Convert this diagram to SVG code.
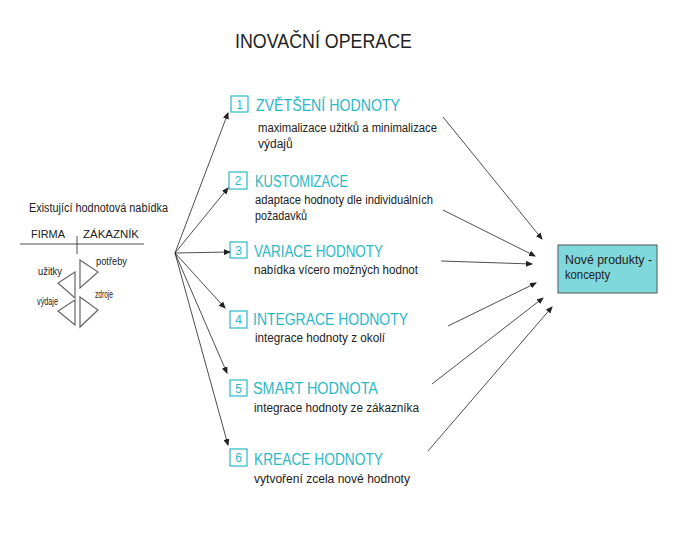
<svg xmlns="http://www.w3.org/2000/svg" width="690" height="550" viewBox="0 0 690 550">
<style>
text{font-family:"Liberation Sans",Arial,sans-serif;fill:#222}
.t{font-size:20px}
.h{font-size:16px;fill:#2bb8c6}
.n{font-size:12px;fill:#2bb8c6;text-anchor:middle}
.s{font-size:12px}
.l{font-size:11px}
.k{font-size:10px}
.nb{fill:none;stroke:#2bb8c6;stroke-width:1.2}
.c{stroke:#222;stroke-width:0.8;fill:none}
.tri{fill:none;stroke:#666;stroke-width:1.2}
</style>
<defs>
<marker id="ah" markerWidth="7" markerHeight="6" refX="6" refY="3" orient="auto" markerUnits="userSpaceOnUse">
<path d="M0,0 L7,3 L0,6 Z" fill="#222"/>
</marker>
</defs>
<rect width="690" height="550" fill="#fff"/>
<text class="t" x="235" y="48" textLength="177" lengthAdjust="spacingAndGlyphs">INOVAČNÍ OPERACE</text>

<g id="existing">
<text class="s" x="29" y="212" textLength="139" lengthAdjust="spacingAndGlyphs">Existující hodnotová nabídka</text>
<text class="l" x="31" y="238" textLength="34" lengthAdjust="spacingAndGlyphs">FIRMA</text>
<text class="l" x="83" y="238" textLength="56" lengthAdjust="spacingAndGlyphs">ZÁKAZNÍK</text>
<line class="c" x1="20" y1="244" x2="144" y2="244"/>
<line class="c" x1="77" y1="236" x2="77" y2="254"/>
<path class="tri" d="M75,272 L58,283 L75,298 Z"/>
<path class="tri" d="M80,260 L98,272 L80,288 Z"/>
<path class="tri" d="M75,300 L58,311 L75,325 Z"/>
<path class="tri" d="M80,297 L98,310 L80,327 Z"/>
<text class="k" x="38" y="275" textLength="24" lengthAdjust="spacingAndGlyphs">užitky</text>
<text class="k" x="96" y="265" textLength="31" lengthAdjust="spacingAndGlyphs">potřeby</text>
<text class="k" x="37" y="305" textLength="21" lengthAdjust="spacingAndGlyphs">výdaje</text>
<text class="k" x="95" y="298" textLength="18" lengthAdjust="spacingAndGlyphs">zdroje</text>
</g>

<g id="op1">
<rect class="nb" x="231" y="96" width="17" height="16"/>
<text class="n" x="239.5" y="109">1</text>
<text class="h" x="256" y="111" textLength="144" lengthAdjust="spacingAndGlyphs">ZVĚTŠENÍ HODNOTY</text>
<text class="s" x="258" y="132" textLength="179" lengthAdjust="spacingAndGlyphs">maximalizace užitků a minimalizace</text>
<text class="s" x="258" y="148">výdajů</text>
</g>
<g id="op2">
<rect class="nb" x="229" y="172" width="18" height="17"/>
<text class="n" x="238" y="185">2</text>
<text class="h" x="255" y="187" textLength="93" lengthAdjust="spacingAndGlyphs">KUSTOMIZACE</text>
<text class="s" x="255" y="204" textLength="178" lengthAdjust="spacingAndGlyphs">adaptace hodnoty dle individuálních</text>
<text class="s" x="255" y="220" textLength="52" lengthAdjust="spacingAndGlyphs">požadavků</text>
</g>
<g id="op3">
<rect class="nb" x="230" y="242" width="17" height="16"/>
<text class="n" x="238.5" y="255">3</text>
<text class="h" x="254" y="257" textLength="129" lengthAdjust="spacingAndGlyphs">VARIACE HODNOTY</text>
<text class="s" x="254" y="274" textLength="164" lengthAdjust="spacingAndGlyphs">nabídka vícero možných hodnot</text>
</g>
<g id="op4">
<rect class="nb" x="230" y="311" width="17" height="17"/>
<text class="n" x="238.5" y="324">4</text>
<text class="h" x="253" y="325" textLength="155" lengthAdjust="spacingAndGlyphs">INTEGRACE HODNOTY</text>
<text class="s" x="255" y="342" textLength="130" lengthAdjust="spacingAndGlyphs">integrace hodnoty z okolí</text>
</g>
<g id="op5">
<rect class="nb" x="230" y="380" width="17" height="16"/>
<text class="n" x="238.5" y="393">5</text>
<text class="h" x="253" y="394" textLength="125" lengthAdjust="spacingAndGlyphs">SMART HODNOTA</text>
<text class="s" x="254" y="412" textLength="165" lengthAdjust="spacingAndGlyphs">integrace hodnoty ze zákazníka</text>
</g>
<g id="op6">
<rect class="nb" x="230" y="449" width="17" height="17"/>
<text class="n" x="238.5" y="462">6</text>
<text class="h" x="254" y="465" textLength="129" lengthAdjust="spacingAndGlyphs">KREACE HODNOTY</text>
<text class="s" x="254" y="483" textLength="156" lengthAdjust="spacingAndGlyphs">vytvoření zcela nové hodnoty</text>
</g>

<g id="result">
<rect x="558" y="245" width="99" height="48" fill="#7fd8dc" stroke="#555" stroke-width="1"/>
<text class="s" x="565" y="264" textLength="87" lengthAdjust="spacingAndGlyphs">Nové produkty -</text>
<text class="s" x="565" y="279" textLength="45" lengthAdjust="spacingAndGlyphs">koncepty</text>
</g>

<g id="connectors">
<line class="c" x1="175" y1="253" x2="228" y2="113" marker-end="url(#ah)"/>
<line class="c" x1="175" y1="253" x2="228" y2="188" marker-end="url(#ah)"/>
<line class="c" x1="175" y1="253" x2="230" y2="252" marker-end="url(#ah)"/>
<line class="c" x1="175" y1="253" x2="225" y2="308" marker-end="url(#ah)"/>
<line class="c" x1="175" y1="253" x2="227" y2="373" marker-end="url(#ah)"/>
<line class="c" x1="175" y1="253" x2="228" y2="445" marker-end="url(#ah)"/>
<line class="c" x1="443" y1="117" x2="542" y2="239" marker-end="url(#ah)"/>
<line class="c" x1="443" y1="210" x2="535" y2="256" marker-end="url(#ah)"/>
<line class="c" x1="441" y1="261" x2="532" y2="264" marker-end="url(#ah)"/>
<line class="c" x1="448" y1="326" x2="536" y2="283" marker-end="url(#ah)"/>
<line class="c" x1="432" y1="384" x2="543" y2="298" marker-end="url(#ah)"/>
<line class="c" x1="428" y1="451" x2="552" y2="307" marker-end="url(#ah)"/>
</g>
</svg>
